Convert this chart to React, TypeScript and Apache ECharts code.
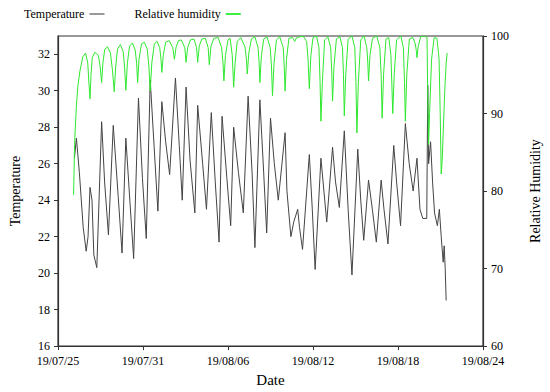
import React, { useEffect, useRef } from "react";
import * as echarts from "echarts";

// x positions are days after 19/07/25 00:00
const dateTicks = ["19/07/25", "19/07/31", "19/08/06", "19/08/12", "19/08/18", "19/08/24"];

const tempDays = [
  1.16, 1.30, 1.51, 1.78, 1.99, 2.12, 2.26, 2.40, 2.53, 2.74, 3.08, 3.29, 3.56, 3.90, 4.25, 4.52,
  4.79, 5.07, 5.34, 5.68, 5.96, 6.23, 6.51, 6.78, 7.05, 7.33, 7.60, 7.88, 8.29, 8.56, 8.77, 9.04,
  9.32, 9.66, 9.86, 10.21, 10.48, 10.82, 11.10, 11.37, 11.58, 11.92, 12.19, 12.40, 12.74, 13.08,
  13.42, 13.70, 13.90, 14.25, 14.52, 14.73, 15.00, 15.27, 15.55, 16.03, 16.16, 16.44, 16.64, 16.92,
  17.05, 17.26, 17.74, 17.95, 18.15, 18.56, 18.77, 18.97, 19.38, 19.59, 19.86, 20.21, 20.48, 20.75,
  21.16, 21.37, 21.58, 21.92, 22.19, 22.47, 22.81, 23.01, 23.29, 23.70, 23.90, 24.18, 24.52, 24.79,
  25.07, 25.34, 25.55, 25.75, 26.03, 26.10, 26.16, 26.30, 26.44, 26.58, 26.78, 26.92, 27.05, 27.19,
  27.26, 27.33, 27.40,
];
const tempValues = [
  26.3, 27.4, 25.5, 22.5, 21.2, 22.0, 24.7, 24.0, 21.0, 20.3, 28.3, 25.0, 22.1, 28.1, 24.2, 21.1,
  27.4, 24.0, 20.8, 29.6, 25.2, 21.9, 30.6, 27.0, 23.4, 29.4, 27.2, 25.4, 30.7, 27.0, 24.0, 30.2,
  26.2, 23.3, 29.2, 26.0, 23.5, 28.8, 25.0, 21.7, 28.6, 25.2, 22.6, 28.0, 25.5, 23.3,
  29.7, 25.5, 21.4, 29.5, 25.5, 22.2, 28.5, 26.0, 24.0, 27.7, 24.5, 22.0, 22.8, 23.5,
  22.5, 21.3, 26.5, 23.5, 20.2, 26.3, 24.5, 22.8, 26.9, 25.0, 23.6, 27.8, 23.5, 19.9,
  26.8, 24.0, 21.8, 25.1, 23.5, 21.7, 25.1, 23.5, 21.6, 27.0, 25.0, 22.6, 28.2, 26.0,
  24.5, 26.3, 23.5, 23.0, 23.0, 30.3, 26.0, 27.2, 25.0, 23.3, 22.6, 23.5, 22.0, 20.6,
  21.5, 20.3, 18.5,
];

const humDays = [
  1.10, 1.17, 1.23, 1.30, 1.40, 1.55, 1.75, 1.95, 2.10, 2.18, 2.26, 2.33, 2.42, 2.60, 2.85, 2.98,
  3.08, 3.17, 3.30, 3.50, 3.70, 3.85, 3.97, 4.07, 4.20, 4.40, 4.60, 4.70, 4.79, 4.90, 5.05, 5.25,
  5.45, 5.55, 5.62, 5.72, 5.90, 6.10, 6.30, 6.42, 6.51, 6.62, 6.80, 7.00, 7.18, 7.27, 7.33, 7.43,
  7.60, 7.85, 8.10, 8.22, 8.33, 8.50, 8.70, 8.95, 9.04, 9.15, 9.35, 9.60, 9.78, 9.86, 9.97, 10.15,
  10.40, 10.60, 10.68, 10.80, 11.00, 11.30, 11.55, 11.65, 11.71, 11.82, 12.00, 12.15, 12.30, 12.40,
  12.50, 12.65, 12.90, 13.20, 13.30, 13.36, 13.47, 13.65, 13.90, 14.12, 14.20, 14.25, 14.36, 14.52,
  14.75, 14.98, 15.07, 15.14, 15.25, 15.42, 15.65, 15.90, 15.97, 16.03, 16.13, 16.30, 16.55, 16.71,
  16.85, 17.30, 17.55, 17.65, 17.74, 17.85, 18.00, 18.25, 18.42, 18.50, 18.56, 18.66, 18.82, 19.05,
  19.25, 19.32, 19.38, 19.48, 19.65, 19.90, 20.08, 20.15, 20.21, 20.31, 20.48, 20.75, 20.95, 21.03,
  21.10, 21.20, 21.37, 21.60, 21.80, 21.87, 21.92, 22.02, 22.20, 22.50, 22.72, 22.81, 22.88, 22.98,
  23.15, 23.35, 23.50, 23.57, 23.63, 23.73, 23.90, 24.20, 24.38, 24.46, 24.52, 24.62, 24.80, 25.05,
  25.22, 25.30, 25.34, 25.42, 25.60, 25.90, 26.05, 26.10, 26.16, 26.23, 26.37, 26.55, 26.75, 26.90,
  26.98, 27.05, 27.12, 27.20, 27.30, 27.40, 27.47,
];
const humValues = [
  79.5, 86.0, 88.5, 91.0, 93.5, 95.5, 97.3, 97.8, 96.5, 94.0, 91.9, 95.0, 97.2, 97.9, 97.5, 96.0,
  94.0, 96.5, 98.3, 98.6, 97.8, 95.5, 92.8, 96.0, 98.3, 98.9, 98.0, 96.0, 93.0, 96.5, 98.7, 99.1,
  98.2, 96.5, 94.0, 97.0, 99.0, 99.2, 98.3, 96.0, 92.9, 96.5, 99.0, 99.3, 98.5, 97.0, 95.3, 97.5,
  99.2, 99.4, 98.5, 97.0, 98.5, 99.4, 99.5, 98.5, 96.6, 98.5, 99.5, 99.6, 98.5, 96.6, 98.7, 99.6,
  99.7, 98.5, 96.3, 98.7, 99.7, 99.8, 98.5, 96.5, 94.2, 97.5, 99.5, 99.7, 97.5, 93.4,
  96.5, 99.3, 99.8, 98.6, 97.0, 95.1, 97.8, 99.6, 99.9, 98.5, 96.5, 94.0, 97.5, 99.6,
  99.9, 98.5, 96.0, 92.3, 96.5, 99.5, 99.9, 98.5, 96.0, 92.9, 97.0, 99.7, 99.8, 99.3,
  99.8, 100, 99.3, 97.0, 93.2, 97.5, 99.8, 100, 98.5, 94.0, 89.0, 94.0, 99.5, 99.9,
  98.5, 95.5, 91.6, 96.0, 99.6, 99.9, 98.5, 95.0, 89.7, 95.0, 99.6, 100, 98.5, 94.0,
  87.5, 94.0, 99.5, 100, 98.5, 96.5, 94.2, 97.5, 99.7, 100, 98.5, 95.0, 89.4, 95.0,
  99.6, 99.8, 97.5, 93.5, 90.0, 95.0, 99.5, 100, 98.5, 94.0, 89.0, 95.0, 99.6, 99.8,
  99.0, 98.0, 97.2, 98.6, 99.9, 100, 99.8, 92.0, 86.0, 90.0, 97.0, 99.8, 99.7, 97.0,
  90.0, 82.2, 84.0, 88.0, 93.0, 96.5, 97.8,
];

const FONT = "Liberation Serif";

export default function App() {
  const ref = useRef<HTMLDivElement>(null);
  useEffect(() => {
    if (!ref.current) return;
    const chart = echarts.init(ref.current, undefined, { renderer: "svg" });
    const tempData = tempDays.map((d, i) => [d, tempValues[i]]);
    const humData = humDays.map((d, i) => [d, humValues[i]]);
    const axisLine = { lineStyle: { color: "#333", width: 1.2 } };
    const label = { color: "#000", fontFamily: FONT, fontSize: 12 };
    chart.setOption({
      animation: false,
      backgroundColor: "#fff",
      grid: { left: 52, right: 60, top: 36, bottom: 40, show: true, borderColor: "#333", borderWidth: 1.2 },
      legend: {
        left: 19,
        top: 3,
        align: "right",
        itemGap: 30,
        itemWidth: 15,
        itemHeight: 2,
        icon: "rect",
        textStyle: { color: "#000", fontFamily: FONT, fontSize: 12 },
        data: [
          { name: "Temperature", itemStyle: { color: "#999" } },
          { name: "Relative humidity", itemStyle: { color: "#3ef03e" } },
        ],
      },
      xAxis: {
        type: "value",
        min: 0,
        max: 30,
        interval: 6,
        name: "Date",
        nameLocation: "middle",
        nameGap: 24,
        nameTextStyle: { color: "#000", fontFamily: FONT, fontSize: 15 },
        axisLine,
        axisTick: { lineStyle: { color: "#333" }, length: 4 },
        splitLine: { show: false },
        axisLabel: { ...label, margin: 9, formatter: (v: number) => dateTicks[Math.round(v / 6)] ?? "" },
      },
      yAxis: [
        {
          type: "value",
          min: 16,
          max: 33,
          interval: 2,
          position: "left",
          name: "Temperature",
          nameLocation: "middle",
          nameRotate: 90,
          nameGap: 36,
          nameTextStyle: { color: "#000", fontFamily: FONT, fontSize: 14 },
          axisLine: { show: true, ...axisLine },
          axisTick: { show: true, lineStyle: { color: "#333" }, length: 4 },
          splitLine: { show: false },
          axisLabel: { ...label, margin: 8, showMaxLabel: false },
        },
        {
          type: "value",
          min: 60,
          max: 100,
          interval: 10,
          position: "right",
          name: "Relative Humidity",
          nameLocation: "middle",
          nameRotate: 90,
          nameGap: 45,
          nameTextStyle: { color: "#000", fontFamily: FONT, fontSize: 14 },
          axisLine: { show: true, ...axisLine },
          axisTick: { show: true, lineStyle: { color: "#333" }, length: 4 },
          splitLine: { show: false },
          axisLabel: { ...label, margin: 8 },
        },
      ],
      series: [
        {
          name: "Temperature",
          type: "line",
          yAxisIndex: 0,
          data: tempData,
          showSymbol: false,
          symbol: "none",
          lineStyle: { color: "#444", width: 1 },
          itemStyle: { color: "#999" },
        },
        {
          name: "Relative humidity",
          type: "line",
          yAxisIndex: 1,
          data: humData,
          showSymbol: false,
          symbol: "none",
          lineStyle: { color: "#2fe82f", width: 1 },
          itemStyle: { color: "#3ef03e" },
        },
      ],
    });
    return () => chart.dispose();
  }, []);
  return <div ref={ref} style={{ width: 550, height: 392, position: "absolute", left: 0, top: 0 }} />;
}
